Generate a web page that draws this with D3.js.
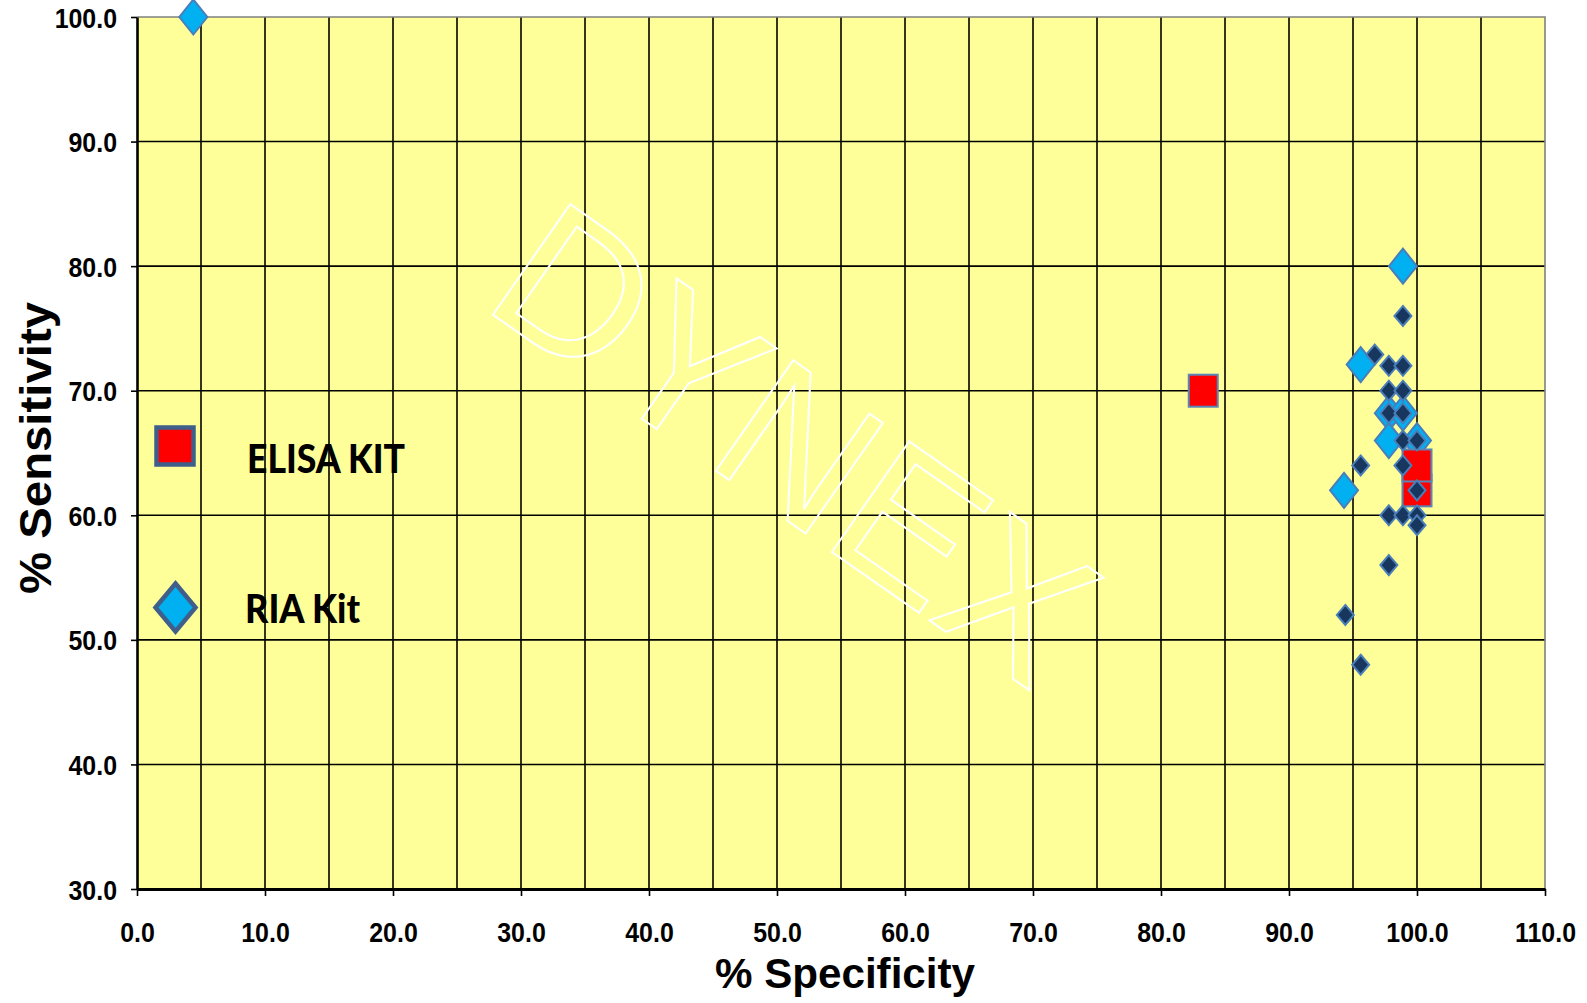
<!DOCTYPE html>
<html>
<head>
<meta charset="utf-8">
<script src="https://cdn.jsdelivr.net/npm/d3@7"></script>
<style>
  body { margin: 0; background: #fff; }
  svg { display: block; }
</style>
</head>
<body>
<div id="chart"></div>
<script>
// ELISA kit results (red squares)
const elisaSpecificity = [83.3, 100.0, 100.0];
const elisaSensitivity = [70.0, 62.0, 64.0];

// RIA kit results, large light-blue diamonds
const riaSpecificity = [4.4, 98.9, 95.6, 97.8, 98.9, 97.8, 100.0, 94.3];
const riaSensitivity = [100.0, 80.0, 72.1, 68.2, 68.2, 66.0, 66.0, 62.0];

// RIA kit results, small dark diamonds
const riaSmallSpecificity = [96.7, 98.9, 97.8, 98.9, 97.8, 98.9, 97.8, 98.9, 98.9, 100.0,
                             95.6, 98.9, 100.0, 97.8, 98.9, 100.0, 100.0, 97.8, 94.4, 95.6];
const riaSmallSensitivity = [72.9, 76.0, 72.0, 72.0, 70.0, 70.0, 68.2, 68.2, 66.0, 66.0,
                             64.0, 64.0, 62.0, 60.0, 60.0, 60.0, 59.2, 56.0, 52.0, 48.0];

const xTicks = d3.range(0, 110.1, 10);
const yTicks = d3.range(30, 100.1, 10);
const legendLabels = ["ELISA KIT", "RIA Kit"];

const W = 1587, H = 1003;
const plotL = 137, plotR = 1545, plotT = 17, plotB = 889;

const svg = d3.select("#chart").append("svg")
  .attr("width", W)
  .attr("height", H);

const x = d3.scaleLinear().domain([0, 110]).range([plotL, plotR]);
const y = d3.scaleLinear().domain([30, 100]).range([plotB, plotT]);

// plot background
svg.append("rect")
  .attr("x", plotL).attr("y", plotT)
  .attr("width", plotR - plotL).attr("height", plotB - plotT)
  .attr("fill", "#ffff99");

// grid: vertical every 5, horizontal every 10
svg.append("g")
  .selectAll("line")
  .data(d3.range(5, 110, 5))
  .join("line")
    .attr("x1", d => x(d)).attr("x2", d => x(d))
    .attr("y1", plotT).attr("y2", plotB)
    .attr("stroke", "#000").attr("stroke-width", 1.6);

svg.append("g")
  .selectAll("line")
  .data(d3.range(40, 100, 10))
  .join("line")
    .attr("x1", plotL).attr("x2", plotR)
    .attr("y1", d => y(d)).attr("y2", d => y(d))
    .attr("stroke", "#000").attr("stroke-width", 1.6);

// grey border top / right
svg.append("path")
  .attr("d", `M${plotL},${plotT}H${plotR}V${plotB}`)
  .attr("fill", "none")
  .attr("stroke", "#808080")
  .attr("stroke-width", 1.6);

// watermark
svg.append("g")
  .attr("transform", "translate(492,314) rotate(35)")
  .append("text")
    .attr("x", -15)
    .attr("y", 0)
    .attr("font-family", "Liberation Sans, Arial, sans-serif")
    .attr("font-size", 196)
    .attr("fill", "none")
    .attr("stroke", "#fff")
    .attr("stroke-width", 2)
    .text("DYNEX");

// axes
const tickFont = "Liberation Sans, Arial, sans-serif";
const sx = 0.89; // tick labels are a little narrow and tall

const yAxis = svg.append("g")
  .attr("transform", `translate(${plotL},0)`)
  .call(d3.axisLeft(y).tickValues(yTicks).tickFormat(d3.format(".1f"))
    .tickSizeInner(6).tickSizeOuter(0));
yAxis.select(".domain").attr("stroke", "#000").attr("stroke-width", 2.6);
yAxis.selectAll(".tick line").attr("stroke", "#000").attr("stroke-width", 1.6);
yAxis.selectAll(".tick text")
  .attr("x", -20 / sx)
  .attr("dy", "0.36em")
  .attr("transform", `scale(${sx},1)`)
  .attr("fill", "#000")
  .style("font", `bold 28px ${tickFont}`);

const xAxis = svg.append("g")
  .attr("transform", `translate(0,${plotB})`)
  .call(d3.axisBottom(x).tickValues(xTicks).tickFormat(d3.format(".1f"))
    .tickSizeInner(7).tickSizeOuter(0));
xAxis.select(".domain").attr("stroke", "#000").attr("stroke-width", 3);
xAxis.selectAll(".tick line").attr("stroke", "#000").attr("stroke-width", 1.6);
xAxis.selectAll(".tick text")
  .attr("y", 53)
  .attr("dy", 0)
  .attr("transform", `scale(${sx},1)`)
  .attr("fill", "#000")
  .style("font", `bold 28px ${tickFont}`);

// axis titles
svg.append("text")
  .attr("x", (plotL + plotR) / 2 + 4)
  .attr("y", 988)
  .attr("text-anchor", "middle")
  .attr("font-family", tickFont)
  .attr("font-weight", "bold")
  .attr("font-size", 42)
  .attr("textLength", 260)
  .attr("lengthAdjust", "spacingAndGlyphs")
  .text("% Specificity");

svg.append("text")
  .attr("transform", `translate(51,${448}) rotate(-90)`)
  .attr("text-anchor", "middle")
  .attr("font-family", tickFont)
  .attr("font-weight", "bold")
  .attr("font-size", 44)
  .attr("textLength", 292)
  .attr("lengthAdjust", "spacingAndGlyphs")
  .text("% Sensitivity");

// marker shapes
const diamond = (w, h) => `M0,${-h}L${w},0L0,${h}L${-w},0Z`;

const ria = riaSpecificity.map((v, i) => ({ x: v, y: riaSensitivity[i] }));
const elisa = elisaSpecificity.map((v, i) => ({ x: v, y: elisaSensitivity[i] }));
const riaSmall = riaSmallSpecificity.map((v, i) => ({ x: v, y: riaSmallSensitivity[i] }));

svg.append("g")
  .selectAll("path")
  .data(ria)
  .join("path")
    .attr("transform", d => `translate(${x(d.x)},${y(d.y)})`)
    .attr("d", diamond(14, 17.5))
    .attr("fill", "#00b0f0")
    .attr("stroke", "#4a7ebb")
    .attr("stroke-width", 2);

svg.append("g")
  .selectAll("rect")
  .data(elisa)
  .join("rect")
    .attr("x", d => x(d.x) - 14.5)
    .attr("y", d => y(d.y) - 16)
    .attr("width", 29)
    .attr("height", 32)
    .attr("fill", "#ff0000")
    .attr("stroke", "#5b87b8")
    .attr("stroke-width", 2);

svg.append("g")
  .selectAll("path")
  .data(riaSmall)
  .join("path")
    .attr("transform", d => `translate(${x(d.x)},${y(d.y)})`)
    .attr("d", diamond(8.5, 10))
    .attr("fill", "#17375e")
    .attr("stroke", "#4a7ebb")
    .attr("stroke-width", 2);

// legend
const legend = svg.append("g");
legend.append("rect")
  .attr("x", 156.5).attr("y", 427.5)
  .attr("width", 37).attr("height", 37)
  .attr("fill", "#ff0000")
  .attr("stroke", "#3f5f8a")
  .attr("stroke-width", 4.5);
legend.append("path")
  .attr("transform", "translate(175.5,607.5)")
  .attr("d", diamond(20, 24))
  .attr("fill", "#00b0f0")
  .attr("stroke", "#3f5f8a")
  .attr("stroke-width", 4.5);

legend.selectAll("text")
  .data(legendLabels)
  .join("text")
    .attr("x", (d, i) => i === 0 ? 247 : 245)
    .attr("y", (d, i) => i === 0 ? 473 : 623)
    .attr("font-family", "Lato, sans-serif")
    .attr("font-weight", 900)
    .attr("font-size", 40)
    .attr("textLength", (d, i) => i === 0 ? 158 : 115)
    .attr("lengthAdjust", "spacingAndGlyphs")
    .attr("fill", "#000")
    .text(d => d);
</script>
</body>
</html>
